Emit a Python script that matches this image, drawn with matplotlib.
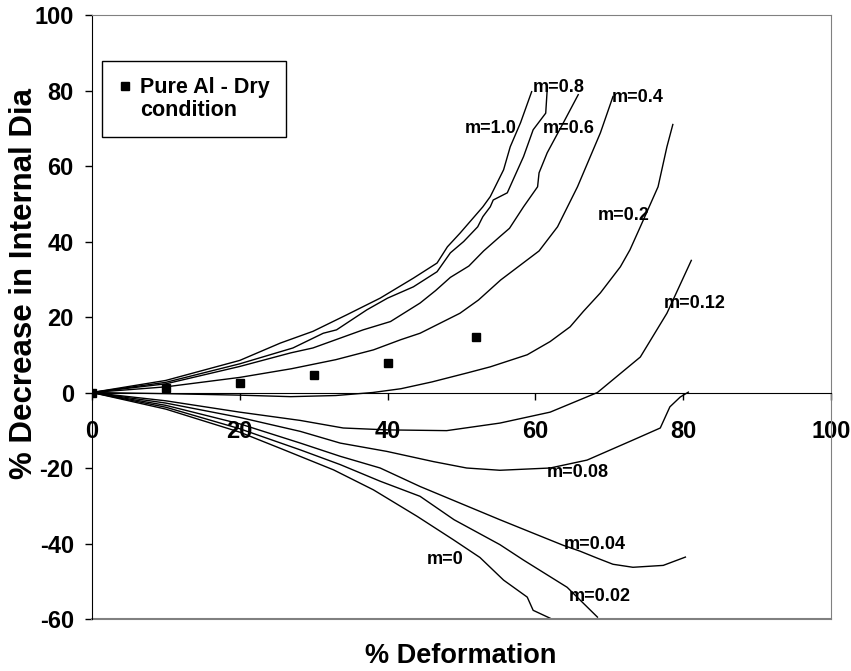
import matplotlib
matplotlib.use("Agg")
from matplotlib import pyplot as plt
from matplotlib.lines import Line2D

plt.rcParams['font.family'] = ['Liberation Sans', 'DejaVu Sans']
plt.rcParams['font.weight'] = 'bold'
plt.rcParams['axes.unicode_minus'] = False

# measured points, pure Al dry condition
exp_x = [0, 10, 20, 30, 40, 52]
exp_y = [0, 1.2, 2.5, 4.7, 7.8, 14.8]

# calibration curves, one per friction factor m
m10_x = [0, 10, 20, 25.5, 29.9, 34.5, 39, 43.5, 46.7, 48.1, 49.8, 52.9, 53.9, 55.7, 56.6, 58, 59.5]
m10_y = [0, 3.2, 8.5, 13.1, 16.2, 20.6, 25, 30.3, 34.3, 38.6, 42.2, 49.2, 51.9, 59, 65.1, 71.5, 79.7]

m08_x = [0, 10, 20, 27.2, 31.3, 33.1, 37.2, 40, 43.5, 46.7, 48.5, 50.3, 52.2, 52.9, 53.9, 54.3, 56.2, 57, 58.4, 59.7, 61.4, 61.6]
m08_y = [0, 2.7, 7.6, 11.8, 15.7, 16.6, 21.9, 25, 28, 32, 37, 40, 43.9, 46.6, 49.2, 51, 52.9, 56.4, 62.5, 69.6, 74, 80.2]

m06_x = [0, 10, 20, 26.9, 29.9, 36.7, 40.4, 44.4, 46.5, 48.5, 51, 53, 55.2, 56.5, 58.4, 60.3, 60.5, 61.6, 63.8, 65.8]
m06_y = [0, 2.3, 6.9, 10.5, 11.8, 16.6, 18.8, 23.7, 27, 30.5, 33.5, 37.5, 41.3, 43.5, 49.2, 54.5, 58.2, 63.5, 71.5, 78.9]

m04_x = [0, 10, 20, 27, 33, 38.1, 41.8, 44.4, 49.8, 52.3, 55.3, 60.5, 63, 65.7, 68.8, 70.5]
m04_y = [0, 1.5, 4, 6.3, 8.7, 11.3, 14, 15.7, 21, 24.5, 29.8, 37.5, 43.9, 54.5, 68.8, 78.4]

m02_x = [0, 10, 20, 26.9, 33, 38, 41.8, 46, 50.8, 53.9, 58.9, 62, 64.7, 66.5, 68.8, 71.5, 72.8, 74.2, 76.6, 77.8, 78.6]
m02_y = [0, -0.3, -0.7, -1.1, -0.8, 0, 1, 2.8, 5.2, 6.8, 10, 13.5, 17.4, 21.5, 26.4, 33.3, 37.8, 43.9, 54.5, 65.1, 71]

m012_x = [0, 10, 20, 28.2, 34, 39.9, 48, 55.2, 62, 68.4, 74.2, 77.8, 81.1]
m012_y = [0, -2.2, -5.2, -7.4, -9.4, -9.9, -10.1, -8.1, -5.2, 0, 9.4, 21, 35]

m008_x = [0, 10, 20, 28.2, 33.6, 39.9, 46.2, 50.7, 55.2, 62, 67, 73.2, 76.9, 78.2, 79.6, 80.7]
m008_y = [0, -2.8, -6.6, -10.3, -13.4, -15.6, -18.3, -20, -20.6, -20, -17.9, -12.6, -9.4, -3.8, -1.2, 0.1]

m004_x = [0, 10, 20, 28.2, 33.6, 39, 44.4, 49.8, 55.2, 60, 63.8, 66, 68.4, 70.5, 73.2, 77.3, 80.3]
m004_y = [0, -3.4, -8.3, -13.4, -16.9, -20, -24.9, -29.3, -33.7, -37.5, -40.5, -42, -43.9, -45.5, -46.3, -45.8, -43.6]

m002_x = [0, 10, 20, 28.2, 33.6, 39, 44.4, 49, 55.2, 58.4, 64.3, 68.4]
m002_y = [0, -3.9, -9.6, -15.2, -19.1, -23.5, -27.5, -33.7, -40.3, -44.4, -51.6, -59.5]

m0_x = [0, 10, 20, 25.5, 32.7, 38.1, 44, 48.9, 52.5, 55.7, 58.9, 59.7, 62]
m0_y = [0, -4.4, -10.5, -14.8, -20.5, -25.8, -32.8, -39, -43.7, -49.7, -54.2, -57.7, -59.8]

curves = [(m10_x, m10_y), (m08_x, m08_y), (m06_x, m06_y), (m04_x, m04_y), (m02_x, m02_y),
          (m012_x, m012_y), (m008_x, m008_y), (m004_x, m004_y), (m002_x, m002_y), (m0_x, m0_y)]

# curve labels and where they sit
label_text = ['m=1.0', 'm=0.8', 'm=0.6', 'm=0.4', 'm=0.2', 'm=0.12', 'm=0.08', 'm=0.04', 'm=0.02', 'm=0']
label_x = [53.9, 63.1, 64.5, 73.9, 72.0, 81.5, 65.7, 68.0, 68.7, 47.8]
label_y = [70.0, 80.9, 70.0, 78.2, 47.0, 23.5, -21.2, -40.3, -54.0, -44.3]

fig = plt.figure(figsize=(8.51, 6.71), dpi=100)
ax = fig.add_axes([0.108, 0.0775, 0.8685, 0.9001])

for cx, cy in curves:
    ax.plot(cx, cy, color='black', lw=1.0)

ax.plot(exp_x, exp_y, linestyle='none', marker='s', ms=5.5, color='black', zorder=5)

for t, lx, ly in zip(label_text, label_x, label_y):
    ax.text(lx, ly, t, fontsize=13, ha='center', va='center')

ax.set_xlim(0, 100)
ax.set_ylim(-60, 100)
ax.set_xticks([0, 20, 40, 60, 80, 100])
ax.set_yticks([-60, -40, -20, 0, 20, 40, 60, 80, 100])

ax.spines['bottom'].set_position(('data', 0))
ax.spines['bottom'].set_color('black')
ax.spines['left'].set_color('black')
ax.spines['top'].set_color('#808080')
ax.spines['right'].set_color('#808080')
ax.axhline(-60, color='#808080', lw=1.5, clip_on=False)

ax.tick_params(axis='x', direction='out', length=5, width=1, pad=15, labelsize=17)
ax.tick_params(axis='y', direction='out', length=5, width=1, pad=8, labelsize=17)

ax.set_xlabel('% Deformation', fontsize=19.5, fontweight='bold')
ax.xaxis.set_label_coords(0.499, -0.0607)
ax.xaxis.label.set_va('center')
ax.set_ylabel('% Decrease in Internal Dia', fontsize=22.5, fontweight='bold')
ax.yaxis.set_label_coords(-0.0915, 0.556)
ax.yaxis.label.set_va('center')

h1 = Line2D([], [], linestyle='none', marker='s', ms=5.5, color='black')
h2 = Line2D([], [], linestyle='none')
leg = ax.legend([h1, h2], ['Pure Al - Dry', 'condition'], loc='upper left',
                bbox_to_anchor=(0.0131, 0.924), borderaxespad=0, fontsize=15.5,
                fancybox=False, framealpha=1, edgecolor='black', handlelength=0.7,
                handletextpad=0.35, labelspacing=0.1, borderpad=0.75)
leg.get_frame().set_linewidth(1.0)

fig.savefig('out.png', dpi=100)
